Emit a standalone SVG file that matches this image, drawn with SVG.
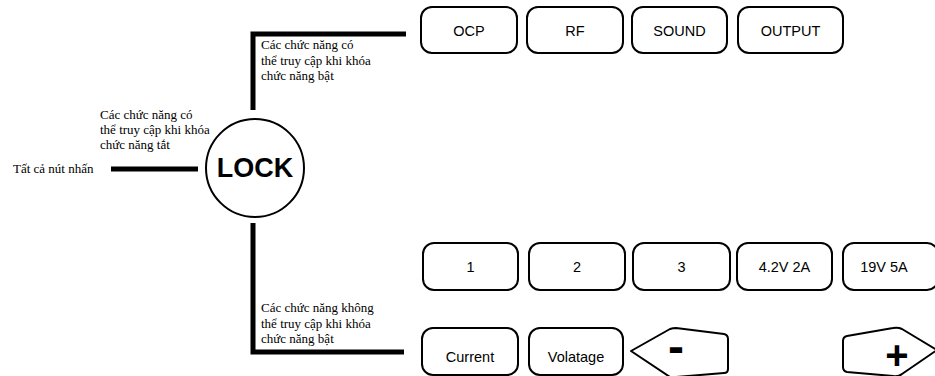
<svg xmlns="http://www.w3.org/2000/svg" width="935" height="376" viewBox="0 0 935 376">
<style>
.bx{fill:#fff;stroke:#000;stroke-width:2;stroke-linejoin:round}
.bt{font-family:"Liberation Sans",Arial,sans-serif;font-size:14.5px;fill:#000;text-anchor:middle}
.sig{font-family:"Liberation Sans",Arial,sans-serif;font-weight:bold;fill:#000;text-anchor:middle}
.lbl{font-family:"Liberation Serif","Times New Roman",serif;font-size:13px;fill:#000}
.conn{fill:none;stroke:#000;stroke-width:5;stroke-linecap:butt;stroke-linejoin:miter}
</style>
<rect width="935" height="376" fill="#fff"/>
<g id="connectors">
<polyline class="conn" points="253,110 253,34 406,34"/>
<polyline class="conn" points="253,223 253,352 404,352"/>
<line class="conn" x1="111" y1="169" x2="198" y2="169"/>
</g>
<g id="labels">
<text class="lbl" x="261" y="49">Các chức năng có</text>
<text class="lbl" x="261" y="64.5">thể truy cập khi khóa</text>
<text class="lbl" x="261" y="80">chức năng bật</text>
<text class="lbl" x="100" y="119">Các chức năng có</text>
<text class="lbl" x="100" y="134">thể truy cập khi khóa</text>
<text class="lbl" x="100" y="149">chức năng tắt</text>
<text class="lbl" x="13" y="173">Tất cả nút nhấn</text>
<text class="lbl" x="261" y="312">Các chức năng không</text>
<text class="lbl" x="261" y="328">thể truy cập khi khóa</text>
<text class="lbl" x="261" y="343">chức năng bật</text>
</g>
<g id="lock">
<circle cx="255" cy="168" r="49" fill="#fff" stroke="#000" stroke-width="2"/>
<text x="255" y="177" font-family="'Liberation Sans',Arial,sans-serif" font-size="27" font-weight="bold" text-anchor="middle">LOCK</text>
</g>
<g id="ocp"><rect class="bx" x="421" y="7" width="96" height="46" rx="11"/><text class="bt" x="469" y="36">OCP</text></g>
<g id="rf"><rect class="bx" x="527" y="7" width="96" height="46" rx="11"/><text class="bt" x="575" y="36">RF</text></g>
<g id="sound"><rect class="bx" x="632" y="7" width="95" height="46" rx="11"/><text class="bt" x="679.5" y="36">SOUND</text></g>
<g id="output"><rect class="bx" x="738" y="7" width="105" height="46" rx="11"/><text class="bt" x="790.5" y="36">OUTPUT</text></g>
<g id="b1"><rect class="bx" x="423" y="243" width="95" height="47" rx="11"/><text class="bt" x="470.5" y="272">1</text></g>
<g id="b2"><rect class="bx" x="529" y="243" width="96" height="47" rx="11"/><text class="bt" x="577" y="272">2</text></g>
<g id="b3"><rect class="bx" x="633" y="243" width="97" height="47" rx="11"/><text class="bt" x="681.5" y="272">3</text></g>
<g id="b42"><rect class="bx" x="737" y="243" width="95" height="47" rx="11"/><text class="bt" x="784.5" y="272">4.2V 2A</text></g>
<g id="b19"><rect class="bx" x="843" y="243" width="95" height="47" rx="11"/><text class="bt" x="884" y="272">19V 5A</text></g>
<g id="current"><rect class="bx" x="422" y="328" width="96" height="47" rx="11"/><text class="bt" x="470" y="362">Current</text></g>
<g id="voltage"><rect class="bx" x="529" y="328" width="94" height="47" rx="11"/><text class="bt" x="576" y="362">Volatage</text></g>
<g id="minus"><path class="bx" d="M631,351 L670,329 Q673,328 676,328 L724,334 Q728,335 728,339 L728,369 Q728,373 724,373 L676,377 L670,377 Z"/><text class="sig" x="676" y="363" font-size="48">-</text></g>
<g id="plus"><path class="bx" d="M843,341 Q843,337 847,336 L893,328 Q898,327 902,329 L937,350 L902,374 Q898,377 893,376 L847,372 Q843,371 843,367 Z"/><text class="sig" x="897" y="369" font-size="40">+</text></g>
</svg>
